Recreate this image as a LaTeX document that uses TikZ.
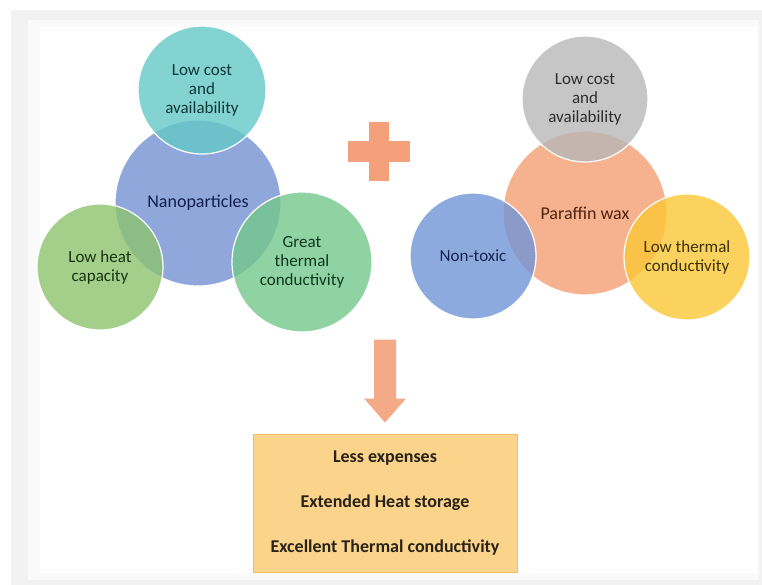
\documentclass[tikz,border=0pt]{standalone}
\usepackage{fontspec}
\setmainfont{Carlito}
\usepackage{tikz}

\definecolor{tealc}{RGB}{101,200,199}
\definecolor{nanoc}{RGB}{115,146,211}
\definecolor{greenl}{RGB}{140,195,111}
\definecolor{greenr}{RGB}{115,200,139}
\definecolor{waxc}{RGB}{244,159,114}
\definecolor{grayc}{RGB}{184,184,184}
\definecolor{toxc}{RGB}{113,149,215}
\definecolor{yellc}{RGB}{251,199,54}
\definecolor{plusc}{RGB}{244,160,122}
\definecolor{boxc}{RGB}{251,211,138}
\definecolor{boxline}{RGB}{240,190,100}
\definecolor{txtdark}{RGB}{40,35,25}

\begin{document}
\begin{tikzpicture}[x=1pt,y=-1pt,
    bubble/.style={circle, draw=white, line width=1.2pt, fill opacity=0.8, text opacity=1,
        align=center, inner sep=0pt, font=\fontsize{17}{19}\selectfont},
    resbox/.style={rectangle, fill=boxc, draw=boxline, line width=1pt, align=center,
        minimum width=264pt, minimum height=138pt, text=txtdark,
        font=\fontsize{18}{45}\selectfont\bfseries}]
    \fill[black!5] (11,10) rectangle (762,585);
    \fill[black!2] (28,20) rectangle (759,580);
    \fill[white] (40,27) rectangle (757,573);
    \useasboundingbox (0,0) rectangle (762,585);

    \node[bubble, minimum size=166pt, fill=nanoc, text={rgb,255:red,20;green,30;blue,75},
        font=\fontsize{18}{20}\selectfont] (nano) at (198,203) {Nanoparticles};
    \node[bubble, minimum size=128pt, fill=tealc, text={rgb,255:red,15;green,55;blue,55}] (costA) at (202,90) {Low cost\\and\\availability};
    \node[bubble, minimum size=126pt, fill=greenl, text={rgb,255:red,25;green,50;blue,15}] (heat) at (100,267) {Low heat\\capacity};
    \node[bubble, minimum size=140pt, fill=greenr, text={rgb,255:red,15;green,55;blue,30}] (great) at (302,262) {Great\\thermal\\conductivity};

    \fill[plusc] (369,122) rectangle (389,181);
    \fill[plusc] (348,141) rectangle (410,162);

    \node[bubble, minimum size=164pt, fill=waxc, text={rgb,255:red,80;green,35;blue,15},
        font=\fontsize{18}{20}\selectfont] (wax) at (585,213) {Paraffin wax};
    \node[bubble, minimum size=126pt, fill=grayc, text={rgb,255:red,45;green,45;blue,45}] (costB) at (585,99) {Low cost\\and\\availability};
    \node[bubble, minimum size=126pt, fill=toxc, text={rgb,255:red,20;green,35;blue,80}] (tox) at (473,256) {Non-toxic};
    \node[bubble, minimum size=126pt, fill=yellc, text={rgb,255:red,60;green,50;blue,5}] (lowth) at (687,257) {Low thermal\\conductivity};

    \node[resbox] (res) at (385,503) {Less expenses\\Extended Heat storage\\Excellent Thermal conductivity};

    \fill[plusc!90!white] ([yshift=11pt]res.north) -- ++(21,-24) -- ++(-10,0) -- ++(0,-59)
        -- ++(-22,0) -- ++(0,59) -- ++(-10,0) -- cycle;
\end{tikzpicture}
\end{document}
